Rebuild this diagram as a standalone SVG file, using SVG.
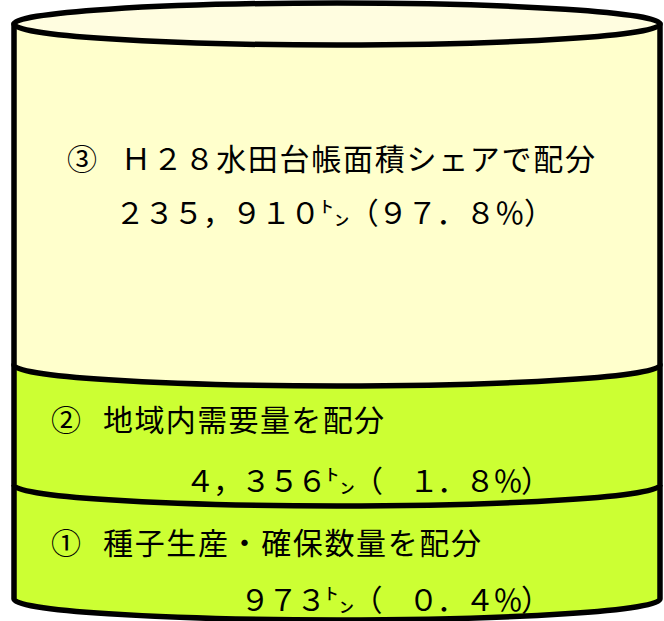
<svg xmlns="http://www.w3.org/2000/svg" width="664" height="621" viewBox="0 0 664 621">
<style>
.outline{stroke:#000;stroke-width:5.5;stroke-linejoin:round}
.lbl{font-family:"Noto Sans CJK JP","Noto Sans",sans-serif;font-size:30px;fill:#000}
</style>
<rect width="664" height="621" fill="#fff"/>
<g id="section1">
<path class="outline" d="M14,365 L14,599 A323,21 0 0 0 660,599 L660,365 Z" fill="#CCFF33"/>
<text class="lbl" x="51" y="554">①</text>
<text class="lbl" x="103" y="554" textLength="378" lengthAdjust="spacing">種子生産・確保数量を配分</text>
<text class="lbl" x="240" y="611" textLength="311" lengthAdjust="spacing">９７３㌧（　０．４％）</text>
</g>
<g id="section2">
<path class="outline" d="M14,485 A323,21 0 0 0 660,485" fill="none"/>
<text class="lbl" x="51" y="431">②</text>
<text class="lbl" x="103" y="431" textLength="281" lengthAdjust="spacing">地域内需要量を配分</text>
<text class="lbl" x="185" y="492" textLength="366" lengthAdjust="spacing">４，３５６㌧（　１．８％）</text>
</g>
<g id="section3">
<path class="outline" d="M14,24 L14,365 A323,21 0 0 0 660,365 L660,24 Z" fill="#FFFFCC"/>
<ellipse class="outline" cx="337" cy="24" rx="323" ry="21" fill="#FFFDE0"/>
<text class="lbl" x="67" y="170">③</text>
<text class="lbl" x="121" y="170" textLength="474" lengthAdjust="spacing">Ｈ２８水田台帳面積シェアで配分</text>
<text class="lbl" x="115" y="224" textLength="439" lengthAdjust="spacing">２３５，９１０㌧（９７．８％）</text>
</g>
<g id="connectors"></g>
</svg>
